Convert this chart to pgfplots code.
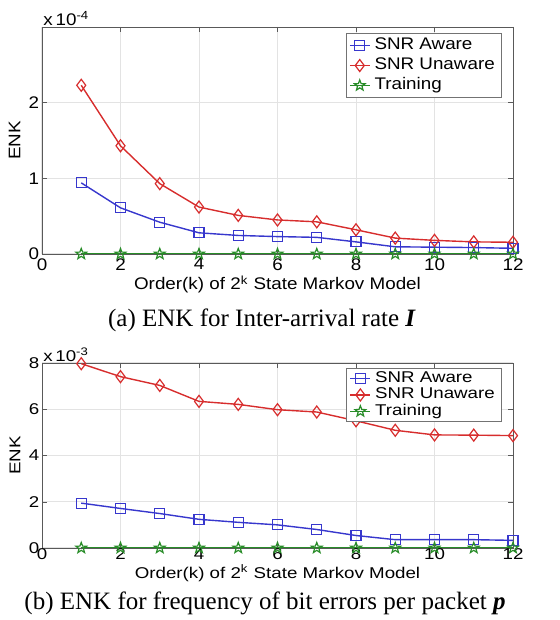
\documentclass[border=0pt]{standalone}
\usepackage{pgfplots}
\pgfplotsset{compat=1.18}
\usepackage{fontspec}
\setmainfont{Liberation Serif}
\setsansfont{Liberation Sans}
\newfontfamily\sfa{Liberation Sans}[FakeStretch=1.12]
\newfontfamily\sfb{Liberation Sans}[FakeStretch=1.2]
\definecolor{mblue}{RGB}{55,55,205}
\definecolor{mred}{RGB}{215,45,45}
\definecolor{mgreen}{RGB}{40,140,40}
\pgfdeclareplotmark{pentagram}{%
  \pgfpathmoveto{\pgfpointpolar{90}{\pgfplotmarksize}}%
  \pgfpathlineto{\pgfpointpolar{126}{0.42\pgfplotmarksize}}%
  \pgfpathlineto{\pgfpointpolar{162}{\pgfplotmarksize}}%
  \pgfpathlineto{\pgfpointpolar{198}{0.42\pgfplotmarksize}}%
  \pgfpathlineto{\pgfpointpolar{234}{\pgfplotmarksize}}%
  \pgfpathlineto{\pgfpointpolar{270}{0.42\pgfplotmarksize}}%
  \pgfpathlineto{\pgfpointpolar{306}{\pgfplotmarksize}}%
  \pgfpathlineto{\pgfpointpolar{342}{0.42\pgfplotmarksize}}%
  \pgfpathlineto{\pgfpointpolar{18}{\pgfplotmarksize}}%
  \pgfpathlineto{\pgfpointpolar{54}{0.42\pgfplotmarksize}}%
  \pgfpathclose
  \pgfusepathqstroke
}
\pgfplotsset{
  enk/.style={
    scale only axis, width=235.5pt,
    xmin=0, xmax=12, xtick={0,2,...,12},
    grid=major, major grid style={gray!22, line width=0.5pt},
    axis line style={black!65}, tick style={black!65},
    tick align=inside, major tick length=2.5pt,
    /pgf/number format/assume math mode=true,
    xlabel={Order(k) of 2\smash{\textsuperscript{k}} State Markov Model},
    ylabel={ENK},
    ylabel style={at={(axis description cs:-0.045,0.5)}, anchor=south, inner sep=0pt},
    every y tick scale label/.style={at={(rel axis cs:0,1)}, anchor=south west, inner sep=0.5pt},
    yticklabel style={inner xsep=1.2pt},
    legend cell align=left,
    legend image code/.code={\draw[mark repeat=2, mark phase=2, #1] plot coordinates {(0cm,0cm) (0.175cm,0cm) (0.35cm,0cm)};},
    legend style={draw=black!55, fill=white, inner xsep=1.5pt, inner ysep=1pt},
  },
  sa/.style={color=mblue, line width=0.7pt, mark=square, mark size=2.5pt, mark options={solid, line width=0.6pt}},
  su/.style={color=mred, line width=0.7pt, mark=diamond, mark size=3pt, mark options={solid, line width=0.6pt}},
  tr/.style={color=mgreen, line width=0.8pt, mark=pentagram, mark size=2.8pt, mark options={solid, line width=0.6pt}},
}
\begin{document}
\begin{tikzpicture}
\useasboundingbox (0,0) rectangle (280pt,310pt);
% ---- (a) ----
\begin{axis}[enk, at={(21pt,183pt)}, anchor=south west, height=113.5pt,
  font=\sfa\fontsize{8.4}{10}\selectfont,
  ymin=0, ymax=3e-4, ytick={0,1e-4,2e-4},
  scaled y ticks=base 10:4,
  ytick scale label code/.code={x\,10\textsuperscript{-4}},
  xticklabel style={inner xsep=1pt, inner ysep=2pt, text depth=0pt},
  xlabel style={at={(axis description cs:0.5,0)}, anchor=base, yshift=-18pt, inner sep=0pt, text height=6pt, text depth=0pt},
  legend style={at={(rel axis cs:0.977,0.973)}, anchor=north east, font=\sfa\fontsize{8.4}{10}\selectfont,
    nodes={inner ysep=1.1pt, text height=6pt, text depth=1.8pt}},
]
\addplot[sa] coordinates {(1,0.94e-4) (2,0.61e-4) (3,0.42e-4) (4,0.28e-4) (5,0.245e-4) (6,0.23e-4) (7,0.22e-4) (8,0.16e-4) (9,0.095e-4) (10,0.09e-4) (11,0.085e-4) (12,0.075e-4)};
\addlegendentry{SNR Aware}
\addplot[su] coordinates {(1,2.23e-4) (2,1.43e-4) (3,0.93e-4) (4,0.62e-4) (5,0.51e-4) (6,0.45e-4) (7,0.425e-4) (8,0.32e-4) (9,0.21e-4) (10,0.18e-4) (11,0.16e-4) (12,0.155e-4)};
\addlegendentry{SNR Unaware}
\addplot[tr] coordinates {(1,0) (2,0) (3,0) (4,0) (5,0) (6,0) (7,0) (8,0) (9,0) (10,0) (11,0) (12,0)};
\addlegendentry{Training}
\end{axis}
% ---- (b) ----
\begin{axis}[enk, at={(21pt,36pt)}, anchor=south west, height=92.5pt,
  font=\sfb\fontsize{7.8}{9.5}\selectfont,
  ymin=0, ymax=8e-3, ytick={0,0.002,0.004,0.006,0.008},
  scaled y ticks=base 10:3,
  ytick scale label code/.code={x\,10\textsuperscript{-3}},
  xticklabel style={inner xsep=1pt, inner ysep=0.3pt, text depth=0pt},
  xlabel style={at={(axis description cs:0.5,0)}, anchor=base, yshift=-15.2pt, inner sep=0pt, text height=5.5pt, text depth=0pt},
  legend style={at={(rel axis cs:0.977,0.973)}, anchor=north east, font=\sfb\fontsize{7.8}{9.5}\selectfont,
    nodes={inner ysep=0.5pt, text height=5.6pt, text depth=1.6pt}},
]
\addplot[sa] coordinates {(1,1.94e-3) (2,1.71e-3) (3,1.49e-3) (4,1.24e-3) (5,1.11e-3) (6,1.0e-3) (7,0.80e-3) (8,0.54e-3) (9,0.36e-3) (10,0.36e-3) (11,0.36e-3) (12,0.33e-3)};
\addlegendentry{SNR Aware}
\addplot[su] coordinates {(1,7.97e-3) (2,7.41e-3) (3,7.03e-3) (4,6.34e-3) (5,6.21e-3) (6,5.98e-3) (7,5.88e-3) (8,5.50e-3) (9,5.09e-3) (10,4.89e-3) (11,4.88e-3) (12,4.86e-3)};
\addlegendentry{SNR Unaware}
\addplot[tr] coordinates {(1,0) (2,0) (3,0) (4,0) (5,0) (6,0) (7,0) (8,0) (9,0) (10,0) (11,0) (12,0)};
\addlegendentry{Training}
\end{axis}
\node[font=\fontsize{12.5}{14}\selectfont, anchor=center] at (131pt,150pt) {(a) ENK for Inter-arrival rate \textbf{\textit{I}}};
\node[font=\fontsize{12.5}{14}\selectfont, anchor=center] at (132.5pt,8.5pt) {(b) ENK for frequency of bit errors per packet \textbf{\textit{p}}};
\end{tikzpicture}
\end{document}
